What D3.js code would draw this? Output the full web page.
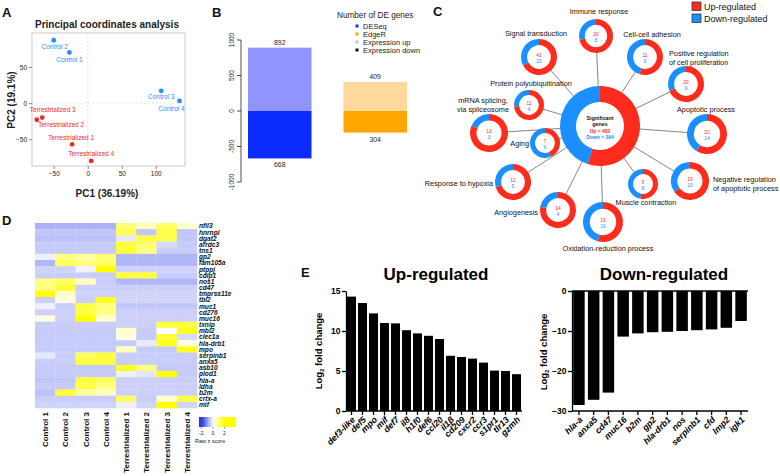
<!DOCTYPE html>
<html><head><meta charset="utf-8">
<script src="https://cdn.jsdelivr.net/npm/d3@7"></script>
<style>body{margin:0;background:#fff} svg{display:block;font-family:"Liberation Sans",Arial,Helvetica,sans-serif}</style>
</head><body><svg id="fig" width="780" height="476"></svg>
<script>
// ---------- DATA ----------
// Panel A
const pcoaSamples = ["Control 1","Control 2","Control 3","Control 4","Terrestrialized 1","Terrestrialized 2","Terrestrialized 3","Terrestrialized 4"];
const pcoaPC1 = [-27,-50,108,135,-23,-67,-75,5];
const pcoaPC2 = [70,87,17,3,-57,-20,-23,-80];
const pcoaTicksX = [-50,0,50,100];
const pcoaTicksY = [-50,0,50];
// Panel B
const deMethods = ["DESeq","EdgeR"];
const deUp = [892,409];
const deDown = [668,304];
const deTicks = [-1000,-500,0,500,1000];
const deLegend = ["DESeq","EdgeR","Expression up","Expression down"];
// Panel C
const goTerms = ["Signal transduction","Immune response","Cell-cell adhesion","Positive regulation|of cell proliferation","Apoptotic process","Negative regulation|of apoptotic process","Muscle contraction","Oxidation-reduction process","Angiogenesis","Response to hypoxia","Aging","mRNA splicing,|via spliceosome","Protein polyubiquitination"];
const goUp   = [41,20,11,20,20,19,9,19,14,12,7,13,11];
const goDown = [20,8,9,9,14,10,8,16,4,5,9,3,4];
const sigUp = 482, sigDown = 394;
// Panel D
const heatSamples = ["Control 1","Control 2","Control 3","Control 4","Terrestrialized 1","Terrestrialized 2","Terrestrialized 3","Terrestrialized 4"];
const heatGenes = ["nfil3","hnrnpl","dgat2","arrdc3","tns1","gp2","fam105a","ptppj","cdip1","nos1","cd47","tmprss11e","tbl2","muc1","cd276","muc16","txnip","mbl2","clec1a","hla-drb1","mpo","serpinb1","anxa5","asb10","plod1","hla-a","ldha","b2m","crtx-a","mif"];
const heatZ = [
 [-0.75,-0.75,-0.75,-0.75, 1.1, 0.5, 1.25, 0.4],
 [-0.55,-0.55,-0.55,-0.55, 1.4,-0.55, 1.5,-0.55],
 [-0.6,-0.6,-0.6,-0.6,-0.22, 1.5, 1.4,-0.55],
 [-0.5,-0.5,-0.5,-0.5, 1.6, 1.1,-0.35,-0.5],
 [-0.5,-0.5,-0.5,-0.5, 1.5, 1.0,-0.48,-0.48],
 [-0.14, 1.0, 0.75, 1.1,-0.7,-0.7,-0.7,-0.7],
 [-0.7, 1.25, 1.0, 1.25,-0.7,-0.7,-0.7,-0.7],
 [-0.42,-0.42,-0.12, 2.0,-0.42,-0.42,-0.42,-0.42],
 [-0.48,-0.48,-0.48,-0.48, 1.5, 1.5,-0.48,-0.48],
 [1.0, 1.25, 0.5,-0.48,-0.7,-0.7,-0.7,-0.7],
 [1.0, 1.6,-0.45,-0.45,-0.45,-0.45,-0.45,-0.45],
 [2.0, 0.4,-0.42,-0.42,-0.4,-0.4,-0.4,-0.4],
 [-0.45, 0.25,-0.45, 1.75,-0.4,-0.4,-0.4,-0.4],
 [-0.14,-0.48, 1.5, 1.0,-0.55,-0.55,-0.55,-0.55],
 [-0.45,-0.45, 1.5, 1.0,-0.45,-0.45,-0.45,-0.45],
 [0.25,-0.45, 2.0, 0.4,-0.45,-0.45,-0.45,-0.45],
 [-0.48,-0.48,-0.48,-0.48,-0.45,-0.45, 1.5, 1.5],
 [-0.5,-0.5,-0.5,-0.5, 0.45,-0.5, 0.0, 1.75],
 [-0.5,-0.5,-0.5,-0.5, 0.25,-0.5, 1.6,-0.35],
 [-0.5,-0.5,-0.5,-0.5,-0.5,-0.2, 1.75, 0.25],
 [-0.5,-0.5,-0.5,-0.5, 0.5,-0.5,-0.5, 1.75],
 [-0.22,-0.48, 1.25, 1.5,-0.48,-0.48,-0.48,-0.48],
 [-0.48,-0.48, 1.5, 1.5,-0.48,-0.48,-0.48,-0.48],
 [-0.5,-0.5,-0.5,-0.5, 1.75, 1.0,-0.5,-0.5],
 [-0.5,-0.5,-0.5,-0.5,-0.14,-0.25, 2.0,-0.5],
 [-0.55,-0.55, 1.5, 1.25,-0.45,-0.45,-0.45,-0.45],
 [-0.5,-0.5, 1.4, 1.0,-0.45,-0.45,-0.45,-0.45],
 [-0.6, 1.6, 0.75, 0.5,-0.45,-0.45,-0.45,-0.45],
 [-0.48,-0.48,-0.48,-0.48, 1.25,-0.48, 0.4, 1.4],
 [-0.42,-0.42,-0.42,-0.42,-0.14,-0.42, 2.0,-0.42]
];
const heatKeyTicks = [-2,0,2];
// Panel E
const upGenes = ["def3-like","def5","mpo","mif","def7","il8","h1f0","def6","ccl20","il1β","cd209","cxcr2","ccr3","s1pr1","tlr13","gzmh"];
const upLFC = [14.3,13.5,12.2,11.0,10.95,10.1,9.7,9.4,9.0,6.9,6.75,6.55,6.05,5.05,5.0,4.6];
const upTicks = [0,5,10,15];
const downGenes = ["hla-a","anxa5","cd47","muc16","b2m","gp2","hla-drb1","nos","serpinb1","cfd","lmp2","igk1"];
const downLFC = [-28.5,-27.2,-25.4,-11.4,-10.6,-10.3,-10.2,-10.0,-9.8,-9.6,-9.2,-7.5];
const downTicks = [-30,-20,-10,0];

// ---------- DRAWING ----------
const FONT = '"Liberation Sans", Arial, Helvetica, sans-serif';
const svg = d3.select("#fig");
svg.append("rect").attr("width",780).attr("height",476).attr("fill","#fff");
function plabel(t,x,y){ svg.append("text").attr("x",x).attr("y",y).attr("font-size",13).attr("font-weight","bold").attr("fill","#111").text(t); }
plabel("A",2,17); plabel("B",212,17); plabel("C",433,16); plabel("D",2,225); plabel("E",301,277);

// ===== Panel A =====
const RED = "#f22a26", BLUE = "#1e8fff";
const gA = svg.append("g");
const xA = d3.scaleLinear().domain([-82,143]).range([32,185]);
const yA = d3.scaleLinear().domain([-87,97]).range([166,33]);
gA.append("line").attr("x1",xA(0)).attr("x2",xA(0)).attr("y1",33).attr("y2",166).attr("stroke","#e2e2e2").attr("stroke-dasharray","2,2");
gA.append("line").attr("x1",32).attr("x2",185).attr("y1",yA(0)).attr("y2",yA(0)).attr("stroke","#e2e2e2").attr("stroke-dasharray","2,2");
gA.append("rect").attr("x",32).attr("y",33).attr("width",153).attr("height",133).attr("fill","none").attr("stroke","#bdbdbd").attr("stroke-width",0.8);
function styleAx(g, fs){ g.attr("font-family",FONT); g.select(".domain").remove(); g.selectAll("line").attr("stroke","#888"); g.selectAll("text").attr("font-size",fs).attr("fill","#222"); }
gA.append("g").attr("transform","translate(0,166)").call(d3.axisBottom(xA).tickValues(pcoaTicksX).tickSize(3).tickPadding(2)).call(g=>styleAx(g,6.5));
gA.append("g").attr("transform","translate(32,0)").call(d3.axisLeft(yA).tickValues(pcoaTicksY).tickSize(3).tickPadding(2)).call(g=>styleAx(g,6.5));
gA.append("text").attr("x",107).attr("y",28).attr("text-anchor","middle").attr("font-size",10).attr("font-weight","bold").attr("fill","#222").text("Principal coordinates analysis");
gA.append("text").attr("x",107).attr("y",197).attr("text-anchor","middle").attr("font-size",10).attr("font-weight","bold").attr("fill","#222").text("PC1 (36.19%)");
gA.append("text").attr("transform","translate(15,100) rotate(-90)").attr("text-anchor","middle").attr("font-size",10).attr("font-weight","bold").attr("fill","#222").text("PC2 (19.1%)");
const pcoaLabelOff = [[0,9],[1,9],[0,8],[-8,10],[-1,-4],[19,9],[16,-8],[0,-5]];
pcoaSamples.forEach((s,i)=>{
  const c = s.startsWith("Control") ? BLUE : RED;
  gA.append("circle").attr("cx",xA(pcoaPC1[i])).attr("cy",yA(pcoaPC2[i])).attr("r",2.4).attr("fill",c);
  gA.append("text").attr("x",xA(pcoaPC1[i])+pcoaLabelOff[i][0]).attr("y",yA(pcoaPC2[i])+pcoaLabelOff[i][1]).attr("text-anchor","middle").attr("font-size",6.5).attr("fill",c).text(s);
});

// ===== Panel B =====
const gB = svg.append("g");
const yB = d3.scaleLinear().domain([-1000,1000]).range([182,40]);
const xB = d3.scaleBand().domain(deMethods).range([248,407]).paddingInner(0.335).paddingOuter(0);
const upCol = ["#8f94ff","#ffd89b"], dnCol = ["#0b2cff","#ffa600"];
gB.append("line").attr("x1",241).attr("x2",241).attr("y1",yB(-1000)).attr("y2",yB(1000)).attr("stroke","#222").attr("stroke-width",0.8);
deTicks.forEach(v=>{
  gB.append("line").attr("x1",237).attr("x2",241).attr("y1",yB(v)).attr("y2",yB(v)).attr("stroke","#222").attr("stroke-width",0.8);
  gB.append("text").attr("transform",`translate(234,${yB(v)}) rotate(-90)`).attr("text-anchor","middle").attr("font-size",6.5).attr("fill","#222").text(v);
});
deMethods.forEach((m,i)=>{
  const x = xB(m), w = xB.bandwidth();
  gB.append("rect").attr("x",x).attr("y",yB(deUp[i])).attr("width",w).attr("height",yB(0)-yB(deUp[i])).attr("fill",upCol[i]);
  gB.append("rect").attr("x",x).attr("y",yB(0)).attr("width",w).attr("height",yB(-deDown[i])-yB(0)).attr("fill",dnCol[i]);
  gB.append("text").attr("x",x+w/2).attr("y",yB(deUp[i])-3).attr("text-anchor","middle").attr("font-size",6.8).attr("fill","#222").text(deUp[i]);
  gB.append("text").attr("x",x+w/2).attr("y",yB(-deDown[i])+9).attr("text-anchor","middle").attr("font-size",6.8).attr("fill","#222").text(deDown[i]);
});
gB.append("text").attr("x",337).attr("y",18).attr("font-size",8.2).attr("fill","#222").text("Number of DE genes");
const legCols = ["#1530ff","#ffa600","#c8c8c8","#111"];
deLegend.forEach((t,i)=>{
  gB.append("rect").attr("x",355.5).attr("y",24.5+i*8).attr("width",3).attr("height",3).attr("fill",legCols[i]);
  gB.append("text").attr("x",363).attr("y",28.8+i*8).attr("font-size",7.5).attr("fill","#222").text(t);
});

// ===== Panel C =====
const gC = svg.append("g");
const CR = "#ff2b1c", CB = "#1a90ff";
const center = {x:600, y:126, r:40, ir:24};
const goLayout = [
 {cx:539,cy:57,r:18,lx:536,ly:36,a:"middle"},
 {cx:596,cy:36,r:17,lx:599,ly:14,a:"middle"},
 {cx:645,cy:57,r:18,lx:652,ly:37,a:"middle"},
 {cx:686,cy:84,r:18,lx:669,ly:56,a:"start"},
 {cx:707,cy:134,r:20,lx:706,ly:112,a:"middle"},
 {cx:690,cy:181,r:19,lx:713,ly:182,a:"start"},
 {cx:643,cy:184,r:15,lx:646,ly:205,a:"middle"},
 {cx:603,cy:222,r:20,lx:608,ly:251,a:"middle"},
 {cx:558,cy:210,r:18,lx:538,ly:215,a:"end"},
 {cx:513,cy:182,r:18,lx:493,ly:186,a:"end"},
 {cx:545,cy:143,r:15,lx:529,ly:146,a:"end"},
 {cx:489,cy:133,r:19,lx:483,ly:103,a:"middle"},
 {cx:529,cy:105,r:15,lx:531,ly:86,a:"middle"}
];
goLayout.forEach(L=>{
  gC.append("line").attr("x1",center.x).attr("y1",center.y).attr("x2",L.cx).attr("y2",L.cy).attr("stroke","#666").attr("stroke-width",0.8);
});
const pie = d3.pie().sort(null);
function donut(cx,cy,r,ir,up,dn){
  const arc = d3.arc().innerRadius(ir).outerRadius(r);
  const g = gC.append("g").attr("transform",`translate(${cx},${cy})`);
  g.append("circle").attr("r",ir).attr("fill","#fff");
  g.selectAll("path").data(pie([up,dn])).join("path").attr("d",arc).attr("fill",(d,i)=>i===0?CR:CB);
  return g;
}
const cg = donut(center.x,center.y,center.r,center.ir,sigUp,sigDown);
cg.append("text").attr("y",-6).attr("text-anchor","middle").attr("font-size",5.3).attr("font-weight","bold").attr("fill","#111").text("Significant");
cg.append("text").attr("y",0).attr("text-anchor","middle").attr("font-size",5.3).attr("font-weight","bold").attr("fill","#111").text("genes");
cg.append("text").attr("y",7).attr("text-anchor","middle").attr("font-size",5).attr("font-weight","bold").attr("fill",CR).text(`Up = ${sigUp}`);
cg.append("text").attr("y",13).attr("text-anchor","middle").attr("font-size",5).attr("font-weight","bold").attr("fill",CB).text(`Down = ${sigDown}`);
goTerms.forEach((t,i)=>{
  const L = goLayout[i];
  const g = donut(L.cx,L.cy,L.r,L.r*0.66,goUp[i],goDown[i]);
  g.append("text").attr("y",-0.5).attr("text-anchor","middle").attr("font-size",5).attr("fill",CR).text(goUp[i]);
  g.append("text").attr("y",5.5).attr("text-anchor","middle").attr("font-size",5).attr("fill",CB).text(goDown[i]);
  const lines = t.split("|");
  lines.forEach((ln,k)=>{
    gC.append("text").attr("x",L.lx).attr("y",L.ly+k*8.5).attr("text-anchor",L.a).attr("font-size",7.3).attr("fill","#111").text(ln);
  });
});
// legend
[["Up-regulated",CR],["Down-regulated",CB]].forEach((d,i)=>{
  gC.append("rect").attr("x",692).attr("y",2+i*12).attr("width",9).attr("height",8.5).attr("fill",d[1]).attr("stroke","#222").attr("stroke-width",0.7);
  gC.append("text").attr("x",704).attr("y",9.5+i*12).attr("font-size",9).attr("fill","#111").text(d[0]);
});

// ===== Panel D =====
const gD = svg.append("g");
const xD = d3.scaleBand().domain(heatSamples).range([35,197]);
const yD = d3.scaleBand().domain(heatGenes).range([223,408]);
const colD = d3.scaleLinear().domain([-2,0,2]).range(["#1e2ee6","#ffffff","#ffff00"]).clamp(true);
heatGenes.forEach((g,r)=>{
  heatSamples.forEach((s,c)=>{
    gD.append("rect").attr("x",xD(s)).attr("y",yD(g)).attr("width",xD.bandwidth()+0.3).attr("height",yD.bandwidth()+0.3).attr("fill",colD(heatZ[r][c]));
  });
  gD.append("text").attr("x",199).attr("y",yD(g)+yD.bandwidth()/2+2.3).attr("font-size",6.6).attr("font-style","italic").attr("font-weight","bold").attr("fill","#111").text(g);
});
heatSamples.forEach(s=>{
  gD.append("text").attr("transform",`translate(${xD(s)+xD.bandwidth()/2+3},412) rotate(-90)`).attr("text-anchor","end").attr("font-size",8).attr("font-weight","bold").attr("fill","#111").text(s);
});
// color key
const keyX = d3.scaleLinear().domain([-2.4,4]).range([199,236]);
const grad = svg.append("defs").append("linearGradient").attr("id","kg").attr("x1","0%").attr("x2","100%");
d3.range(0,1.0001,0.1).forEach(f=>{
  const v = keyX.domain()[0]+f*(keyX.domain()[1]-keyX.domain()[0]);
  grad.append("stop").attr("offset",(f*100)+"%").attr("stop-color",colD(v));
});
gD.append("rect").attr("x",199).attr("y",417).attr("width",37).attr("height",10).attr("fill","url(#kg)");
heatKeyTicks.forEach(v=>{
  gD.append("line").attr("x1",keyX(v)).attr("x2",keyX(v)).attr("y1",427).attr("y2",429).attr("stroke","#333").attr("stroke-width",0.5);
  gD.append("text").attr("x",keyX(v)).attr("y",435).attr("text-anchor","middle").attr("font-size",5).attr("fill","#222").text(v);
});
gD.append("text").attr("x",195).attr("y",443).attr("font-size",5.5).attr("fill","#222").text("Raw z score");

// ===== Panel E =====
function styleE(g){ g.attr("font-family",FONT); g.selectAll(".domain").attr("stroke","#000").attr("stroke-width",1.3); g.selectAll("line").attr("stroke","#000").attr("stroke-width",1.3); g.selectAll("text").attr("font-size",8.5).attr("font-weight","bold").attr("fill","#000"); }
function ylab(x,y){
  const t = svg.append("text").attr("transform",`translate(${x},${y}) rotate(-90)`).attr("text-anchor","middle").attr("font-size",9.5).attr("font-weight","bold").attr("fill","#000");
  t.append("tspan").text("Log");
  t.append("tspan").attr("font-size",6).attr("dy",2).text("2");
  t.append("tspan").attr("dy",-2).text(" fold change");
}
// Up
const gE1 = svg.append("g");
const xU = d3.scaleBand().domain(upGenes).range([346,522]).paddingInner(0.18).paddingOuter(0.09);
const yU = d3.scaleLinear().domain([0,15]).range([411,291]);
gE1.selectAll("rect").data(upGenes).join("rect").attr("x",d=>xU(d)).attr("width",xU.bandwidth()).attr("y",(d,i)=>yU(upLFC[i])).attr("height",(d,i)=>yU(0)-yU(upLFC[i])).attr("fill","#000");
gE1.append("g").attr("transform","translate(346,0)").call(d3.axisLeft(yU).tickValues(upTicks).tickSize(4).tickSizeOuter(0).tickPadding(1.5)).call(styleE);
gE1.append("g").attr("transform","translate(0,411)").call(d3.axisBottom(xU).tickSize(4).tickSizeOuter(0).tickFormat("")).call(styleE).call(g=>g.select(".domain").attr("d","M346,0H522"));
upGenes.forEach(d=>{
  gE1.append("text").attr("transform",`translate(${xU(d)+xU.bandwidth()/2+2},418) rotate(-45)`).attr("text-anchor","end").attr("font-size",8.8).attr("font-style","italic").attr("font-weight","bold").attr("fill","#000").attr("dy","0.35em").text(d);
});
gE1.append("text").attr("x",436).attr("y",280).attr("text-anchor","middle").attr("font-size",17).attr("font-weight","bold").attr("fill","#000").text("Up-regulated");
ylab(322,351);
// Down
const gE2 = svg.append("g");
const xDn = d3.scaleBand().domain(downGenes).range([572,748]).paddingInner(0.22).paddingOuter(0.08);
const yDn = d3.scaleLinear().domain([-30,0]).range([411,291]);
gE2.selectAll("rect").data(downGenes).join("rect").attr("x",d=>xDn(d)).attr("width",xDn.bandwidth()).attr("y",yDn(0)).attr("height",(d,i)=>yDn(downLFC[i])-yDn(0)).attr("fill","#000");
gE2.append("g").attr("transform","translate(572,0)").call(d3.axisLeft(yDn).tickValues(downTicks).tickSize(4).tickSizeOuter(0).tickPadding(1.5).tickFormat(d=>d<0?"−"+Math.abs(d):d)).call(styleE);
gE2.append("g").attr("transform","translate(0,411)").call(d3.axisBottom(xDn).tickSize(4).tickSizeOuter(0).tickFormat("")).call(styleE).call(g=>g.select(".domain").attr("d","M572,0H748"));
gE2.append("line").attr("x1",572).attr("x2",748).attr("y1",yDn(0)).attr("y2",yDn(0)).attr("stroke","#000").attr("stroke-width",1.3);
downGenes.forEach(d=>{
  gE2.append("text").attr("transform",`translate(${xDn(d)+xDn.bandwidth()/2+2},418) rotate(-45)`).attr("text-anchor","end").attr("font-size",8.8).attr("font-style","italic").attr("font-weight","bold").attr("fill","#000").attr("dy","0.35em").text(d);
});
gE2.append("text").attr("x",664).attr("y",280).attr("text-anchor","middle").attr("font-size",17).attr("font-weight","bold").attr("fill","#000").text("Down-regulated");
ylab(547,352);
</script></body></html>
